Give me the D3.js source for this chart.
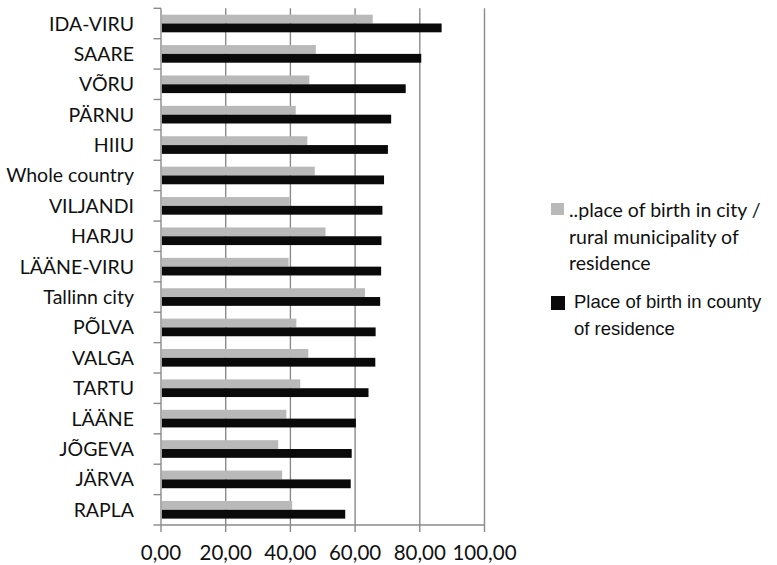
<!DOCTYPE html>
<html>
<head>
<meta charset="utf-8">
<script src="https://cdn.jsdelivr.net/npm/d3@7"></script>
<style>
  html, body { margin: 0; padding: 0; background: #fff; }
  svg { display: block; }
</style>
</head>
<body>
<svg id="chart" width="777" height="565"></svg>
<script>
// Counties, ordered top to bottom
const categories = [
  "IDA-VIRU", "SAARE", "VÕRU", "PÄRNU", "HIIU", "Whole country", "VILJANDI",
  "HARJU", "LÄÄNE-VIRU", "Tallinn city", "PÕLVA", "VALGA", "TARTU", "LÄÄNE",
  "JÕGEVA", "JÄRVA", "RAPLA"
];

// Share born in the same city / rural municipality (%)
const cityValues = [
  65.2, 47.6, 45.6, 41.4, 45.0, 47.3, 39.5,
  50.6, 39.2, 62.8, 41.6, 45.3, 42.8, 38.5,
  36.0, 37.2, 40.3
];

// Share born in the same county (%)
const countyValues = [
  86.5, 80.2, 75.4, 70.9, 69.9, 68.7, 68.2,
  67.9, 67.8, 67.5, 66.1, 66.0, 63.9, 60.0,
  58.7, 58.4, 56.7
];

const xTicks = [0, 20, 40, 60, 80, 100];

const seriesNames = ["city", "county"];
const seriesLabels = [
  ["..place of birth in city /", "rural municipality of", "residence"],
  ["Place of birth in county", "of residence"]
];
const seriesColors = ["#b9b9b9", "#0a0a0a"];

const rows = categories.map((c, i) => ({ name: c, city: cityValues[i], county: countyValues[i] }));

const svg = d3.select("#chart");
const plotLeft = 161, plotRight = 484.5, plotTop = 8.3, plotBottom = 525;
const gridColor = "#8a8a8a";

const x = d3.scaleLinear().domain([0, 100]).range([plotLeft, plotRight]);
const y = d3.scaleBand().domain(categories).range([plotTop, plotBottom])
  .paddingInner(0.42).paddingOuter(0.21);
const ySub = d3.scaleBand().domain(seriesNames).range([0, y.bandwidth()]);

const locale = d3.formatLocale({ decimal: ",", thousands: " ", grouping: [3], currency: ["", ""] });
const fmt = locale.format(".2f");

// vertical gridlines
svg.append("g").selectAll("line")
  .data(xTicks.filter(d => d > 0))
  .join("line")
  .attr("x1", d => x(d)).attr("x2", d => x(d))
  .attr("y1", plotTop).attr("y2", plotBottom)
  .attr("stroke", gridColor).attr("stroke-width", 1.4);

// bars
const groups = svg.append("g").selectAll("g")
  .data(rows)
  .join("g")
  .attr("transform", d => `translate(0,${y(d.name)})`);

seriesNames.forEach((s, si) => {
  groups.append("rect")
    .attr("x", x(0) + 0.8)
    .attr("y", ySub(s))
    .attr("width", d => x(d[s]) - x(0))
    .attr("height", ySub.bandwidth())
    .attr("fill", seriesColors[si]);
});

// category axis
const yAxis = svg.append("g").attr("transform", `translate(${plotLeft},0)`);
yAxis.append("line")
  .attr("x1", 0).attr("x2", 0).attr("y1", plotTop).attr("y2", plotBottom)
  .attr("stroke", gridColor).attr("stroke-width", 1.4);
const boundaries = categories.map(c => y(c) - y.step() * y.paddingOuter()).concat([plotBottom]);
yAxis.selectAll("line.tick")
  .data(boundaries)
  .join("line").attr("class", "tick")
  .attr("x1", -7.5).attr("x2", 0)
  .attr("y1", d => d).attr("y2", d => d)
  .attr("stroke", gridColor).attr("stroke-width", 1.4);
svg.append("g").selectAll("text")
  .data(categories)
  .join("text")
  .attr("x", 134)
  .attr("y", d => y(d) + y.bandwidth() / 2)
  .attr("dy", "0.36em")
  .attr("text-anchor", "end")
  .attr("font-family", "Lato, 'Open Sans', sans-serif")
  .attr("font-size", 19.5)
  .attr("fill", "#111")
  .text(d => d);

// value axis
const xAxis = svg.append("g").attr("transform", `translate(0,${plotBottom})`);
xAxis.append("line")
  .attr("x1", plotLeft).attr("x2", plotRight).attr("y1", 0).attr("y2", 0)
  .attr("stroke", gridColor).attr("stroke-width", 1.4);
xAxis.selectAll("line.tick")
  .data(xTicks)
  .join("line").attr("class", "tick")
  .attr("x1", d => x(d)).attr("x2", d => x(d))
  .attr("y1", 0).attr("y2", 7)
  .attr("stroke", gridColor).attr("stroke-width", 1.4);
xAxis.selectAll("text")
  .data(xTicks)
  .join("text")
  .attr("x", d => x(d))
  .attr("y", 34.5)
  .attr("text-anchor", "middle")
  .attr("font-family", "Lato, 'Open Sans', sans-serif")
  .attr("font-size", 20.5)
  .attr("fill", "#111")
  .text(d => fmt(d));

// legend
const legend = svg.append("g");
const leg1 = legend.append("g");
leg1.append("rect").attr("x", 551).attr("y", 203).attr("width", 13).attr("height", 12).attr("fill", seriesColors[0]);
seriesLabels[0].forEach((t, i) => {
  leg1.append("text")
    .attr("x", 569).attr("y", 217 + i * 26.5)
    .attr("font-family", "Lato, 'Open Sans', sans-serif")
    .attr("font-size", 19.5)
    .attr("fill", "#111")
    .text(t);
});
const leg2 = legend.append("g");
leg2.append("rect").attr("x", 551).attr("y", 296).attr("width", 14).attr("height", 14).attr("fill", seriesColors[1]);
seriesLabels[1].forEach((t, i) => {
  leg2.append("text")
    .attr("x", 574).attr("y", 308 + i * 27)
    .attr("font-family", "'Liberation Sans', Arial, sans-serif")
    .attr("font-size", 18.5)
    .attr("fill", "#111")
    .text(t);
});
</script>
</body>
</html>
